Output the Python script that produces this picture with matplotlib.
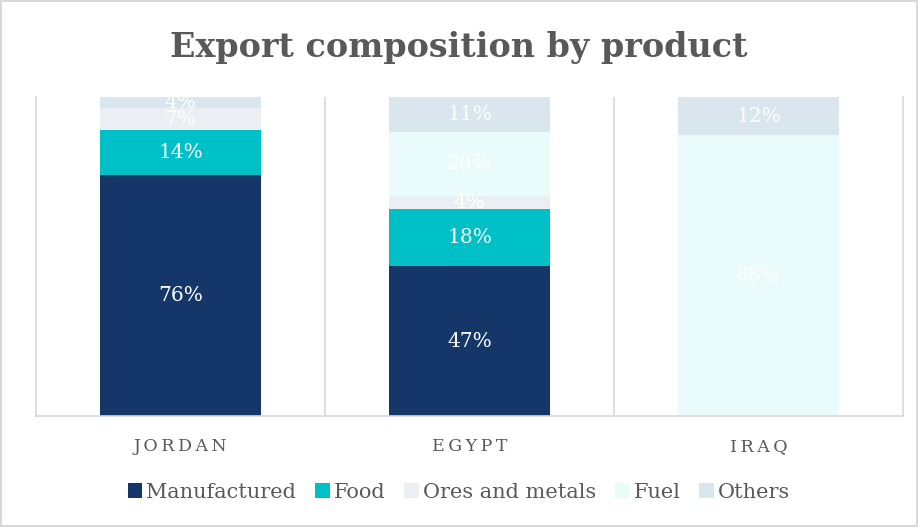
import matplotlib.pyplot as plt
import numpy as np

# data
countries = ['JORDAN', 'EGYPT', 'IRAQ']
products = ['Manufactured', 'Food', 'Ores and metals', 'Fuel', 'Others']
manufactured = [75.5, 47, 0]
food = [14.0, 18, 0]
ores = [6.9, 4, 0]
fuel = [0, 20, 88]
others = [3.6, 11, 12]
series = [manufactured, food, ores, fuel, others]
colors = ['#143668', '#00c0c7', '#ebeef3', '#eafbfb', '#dae6ed']

plt.rcParams['font.family'] = ['DejaVu Serif']

fig = plt.figure(figsize=(9.18, 5.27), dpi=100)
fig.patch.set_edgecolor('#d9d9d9')
fig.patch.set_linewidth(1.5)
ax = fig.add_axes([36 / 918, 1 - 416 / 527, 867 / 918, 319 / 527])

x = np.arange(len(countries))
bottom = np.zeros(len(countries))
for name, vals, c in zip(products, series, colors):
    vals = np.array(vals, dtype=float)
    ax.bar(x, vals, bottom=bottom, width=0.557, color=c, label=name, zorder=2)
    for xi, v, b in zip(x, vals, bottom):
        if v > 0:
            ax.text(xi, b + v / 2, f'{v:.0f}%', ha='center', va='center',
                    color='white', fontsize=14.5, zorder=3)
    bottom += vals

ax.set_xlim(-0.5, 2.5)
ax.set_ylim(0, 100)
ax.set_yticks([])
ax.set_xticks(x)
ax.set_xticklabels(['\u2009'.join(list(c)) for c in countries], fontsize=12.5, color='#595959')
ax.tick_params(axis='x', length=0, pad=16)
for b in [0.5, 1.5]:
    ax.axvline(b, color='#d9d9d9', lw=1.2, zorder=1)
for s in ['top']:
    ax.spines[s].set_visible(False)
for s in ['left', 'right', 'bottom']:
    ax.spines[s].set_color('#d9d9d9')
    ax.spines[s].set_linewidth(1.2)

fig.text(0.5, 1 - 47 / 527, 'Export composition by product', ha='center', va='center',
         fontsize=24, fontweight='bold', color='#595959')

leg = fig.legend(loc='center', bbox_to_anchor=(0.5, 1 - 492 / 527), ncol=5, frameon=False,
                 fontsize=15, handlelength=0.7, handleheight=0.7, handletextpad=0.2,
                 columnspacing=0.9)
for t in leg.get_texts():
    t.set_color('#595959')

fig.savefig('out.png', dpi=100)
